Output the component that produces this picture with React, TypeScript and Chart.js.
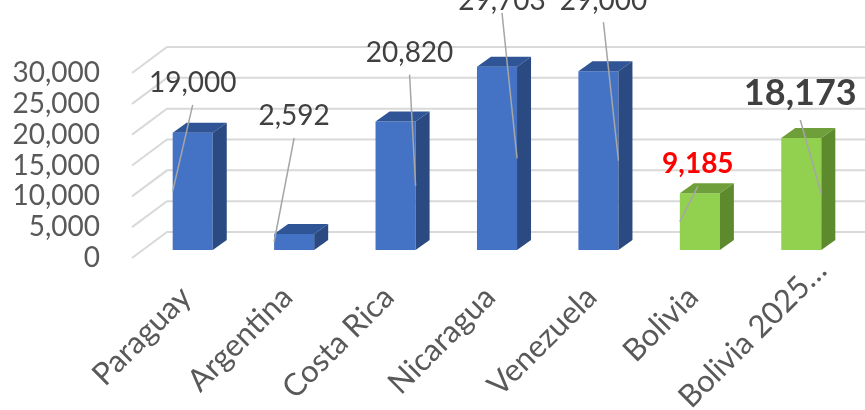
import React, { useEffect, useRef } from 'react';
import { Chart, registerables } from 'chart.js';

Chart.register(...registerables);

// ---- data ----
const categories = ['Paraguay', 'Argentina', 'Costa Rica', 'Nicaragua', 'Venezuela', 'Bolivia', 'Bolivia 2025…'];
const values = [19000, 2592, 20820, 29703, 29000, 9185, 18173];
const valueLabels = ['19,000', '2,592', '20,820', '29,703', '29,000', '9,185', '18,173'];
const yTicks = [0, 5000, 10000, 15000, 20000, 25000, 30000];

// ---- styles ----
const BLUE = { front: '#4472C4', top: '#2F5597', side: '#2B4A82' };
const GREEN = { front: '#92D050', top: '#6F9F3A', side: '#5E8A2E' };
const barPalette = [BLUE, BLUE, BLUE, BLUE, BLUE, GREEN, GREEN];
const labelOffsets: [number, number][] = [[0, -41], [0, -109], [14, -60], [5, -57], [5, -61], [-2, -20], [-1, -33]];
const leaderGap = [13, 13, 13, 3, 12, 13, 15];
const leaderSide = ['left', 'left', 'right', 'right', 'right', 'left', 'right'];
const labelFonts = ['28px Lato', '28px Lato', '28px Lato', '28px Lato', '28px Lato', 'bold 28px Lato', 'bold 36px Lato'];
const labelColors = ['#404040', '#404040', '#404040', '#404040', '#404040', '#FF0000', '#404040'];
const catShift = [0, 0, 0, 0, 0, 0, 38];

const DX = 14;
const DY = 10;
const GRID = '#D9D9D9';

const threeD = {
  id: 'threeD',
  beforeDatasetsDraw(chart: any) {
    const { ctx, chartArea, scales } = chart;
    const ys = scales.y;
    ctx.save();
    ctx.strokeStyle = GRID;
    ctx.lineWidth = 2;
    for (const v of yTicks) {
      const yf = ys.getPixelForValue(v);
      ctx.beginPath();
      ctx.moveTo(chartArea.left - 10, yf + 8);
      ctx.lineTo(chartArea.left + 25, yf - 18);
      ctx.lineTo(chart.width, yf - 18);
      ctx.stroke();
    }
    // category labels
    const xs = scales.x;
    ctx.font = '31px Lato';
    ctx.fillStyle = '#595959';
    ctx.textAlign = 'right';
    ctx.textBaseline = 'middle';
    categories.forEach((c, i) => {
      const tx = xs.getPixelForValue(i);
      ctx.save();
      ctx.translate(tx - 20, chartArea.bottom + 29);
      ctx.rotate(-Math.PI / 4);
      ctx.fillText(c, catShift[i], 18.6);
      ctx.restore();
    });
    ctx.restore();
  },
  afterDatasetsDraw(chart: any) {
    const { ctx } = chart;
    const meta = chart.getDatasetMeta(0);
    ctx.save();
    meta.data.forEach((bar: any, i: number) => {
      const { x, y, base, width } = bar.getProps(['x', 'y', 'base', 'width'], true);
      const l = x - width / 2;
      const r = x + width / 2;
      const pal = barPalette[i];
      ctx.fillStyle = pal.top;
      ctx.beginPath();
      ctx.moveTo(l, y);
      ctx.lineTo(l + DX, y - DY);
      ctx.lineTo(r + DX, y - DY);
      ctx.lineTo(r, y);
      ctx.closePath();
      ctx.fill();
      ctx.fillStyle = pal.side;
      ctx.beginPath();
      ctx.moveTo(r, y);
      ctx.lineTo(r + DX, y - DY);
      ctx.lineTo(r + DX, base - DY);
      ctx.lineTo(r, base);
      ctx.closePath();
      ctx.fill();
    });
    meta.data.forEach((bar: any, i: number) => {
      const { x, y, base, width } = bar.getProps(['x', 'y', 'base', 'width'], true);
      const lx = x + labelOffsets[i][0];
      const ly = y + labelOffsets[i][1];
      const ex = leaderSide[i] === 'left' ? x - width / 2 : x + width / 2;
      const ey = (y + base) / 2;
      ctx.strokeStyle = '#A6A6A6';
      ctx.lineWidth = 1.5;
      ctx.beginPath();
      ctx.moveTo(lx, ly + leaderGap[i]);
      ctx.lineTo(ex, ey);
      ctx.stroke();
      ctx.font = labelFonts[i];
      ctx.fillStyle = labelColors[i];
      ctx.textAlign = 'center';
      ctx.textBaseline = 'alphabetic';
      ctx.fillText(valueLabels[i], lx, ly);
    });
    ctx.restore();
  },
};

export default function App() {
  const ref = useRef<HTMLCanvasElement | null>(null);
  useEffect(() => {
    if (!ref.current) return;
    const chart = new Chart(ref.current, {
      type: 'bar',
      data: {
        labels: categories,
        datasets: [
          {
            data: values,
            backgroundColor: barPalette.map((p) => p.front),
            borderWidth: 0,
            barPercentage: 0.395,
            categoryPercentage: 1,
          },
        ],
      },
      options: {
        animation: false,
        responsive: false,
        devicePixelRatio: 1,
        layout: { padding: { top: 65, right: 13, left: 0, bottom: 0 } },
        plugins: { legend: { display: false }, tooltip: { enabled: false } },
        scales: {
          x: {
            grid: { display: false, drawTicks: false },
            border: { display: false },
            ticks: { display: false },
            afterFit: (s: any) => {
              s.height = 160;
            },
          },
          y: {
            min: 0,
            max: 30000,
            grid: { display: false, drawTicks: false },
            border: { display: false },
            afterBuildTicks: (s: any) => {
              s.ticks = yTicks.map((v) => ({ value: v }));
            },
            ticks: {
              autoSkip: false,
              padding: 42,
              labelOffset: 8,
              color: '#595959',
              font: { family: 'Lato', size: 28 },
              callback: (v: any) => Number(v).toLocaleString('en-US'),
            },
            afterFit: (s: any) => {
              s.width = 142;
            },
          },
        },
      },
      plugins: [threeD],
    });
    return () => chart.destroy();
  }, []);
  return (
    <div style={{ position: 'absolute', left: 0, top: 0, width: 865, height: 410 }}>
      <canvas ref={ref} width={865} height={410} />
    </div>
  );
}
